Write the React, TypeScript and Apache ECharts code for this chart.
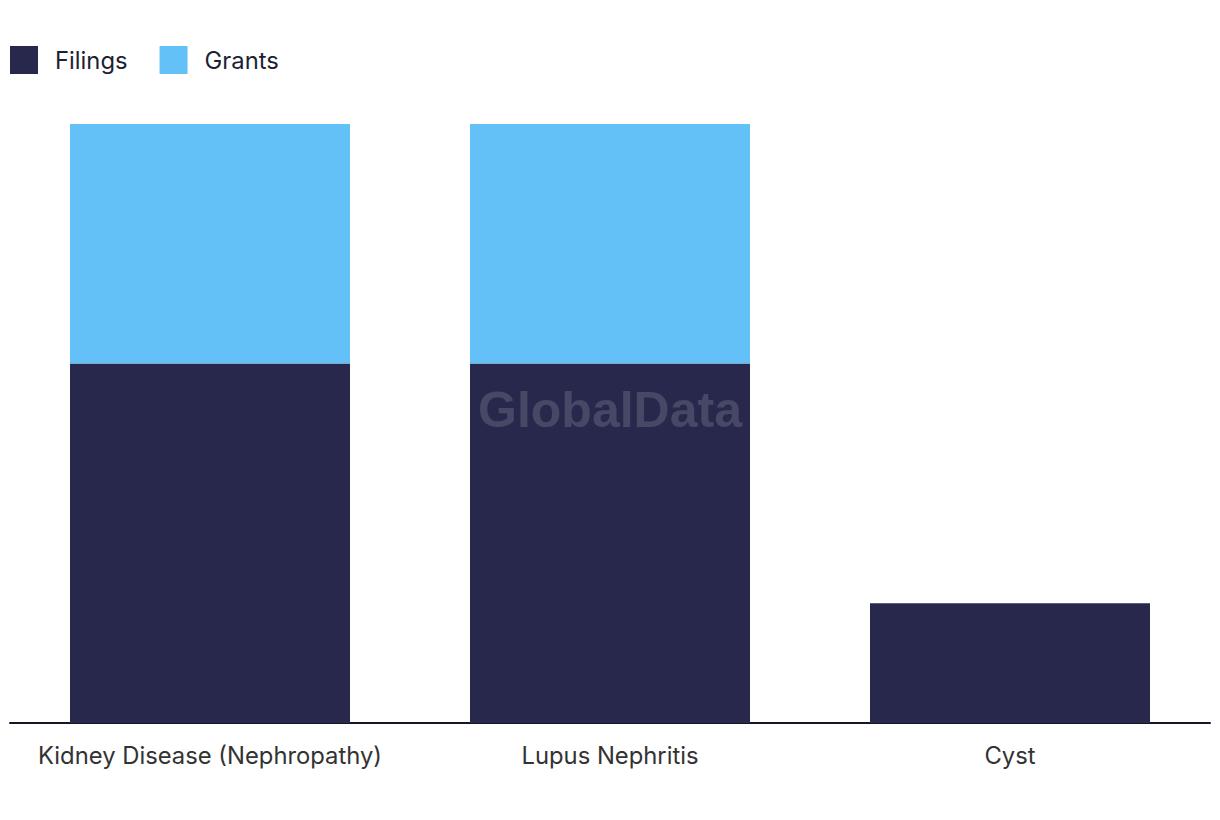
import React, { useEffect, useRef } from "react";
import * as echarts from "echarts";

const categories = ["Kidney Disease (Nephropathy)", "Lupus Nephritis", "Cyst"];
const filings = [3, 3, 1];
const grants = [2, 2, 0];

export default function App() {
  const ref = useRef<HTMLDivElement>(null);
  useEffect(() => {
    document.body.style.margin = "0";
    const chart = echarts.init(ref.current!, undefined, { renderer: "svg" });
    chart.setOption({
      animation: false,
      textStyle: { fontFamily: "Inter" },
      legend: {
        left: 5,
        top: 41,
        itemWidth: 28,
        itemHeight: 28,
        itemGap: 32,
        icon: "rect",
        textStyle: { fontSize: 23.8, color: "#1e1f33", fontFamily: "Inter", padding: [0, 0, 0, 12] },
        data: ["Filings", "Grants"],
      },
      grid: { left: 10, right: 10, top: 124, bottom: 97, containLabel: false },
      xAxis: {
        type: "category",
        data: categories,
        axisLine: { lineStyle: { color: "#15162a", width: 2 } },
        axisTick: { show: false },
        axisLabel: { fontSize: 23.8, color: "#333333", margin: 20, fontFamily: "Inter", interval: 0 },
      },
      yAxis: { type: "value", min: 0, max: 5, show: false, splitLine: { show: false } },
      graphic: [
        {
          type: "text",
          left: "center",
          top: 385,
          z: 100,
          style: {
            text: "GlobalData",
            fontSize: 50,
            fontWeight: "bold",
            fontFamily: "Liberation Sans",
            fill: "rgba(255,255,255,0.15)",
          },
        },
      ],
      series: [
        {
          name: "Filings",
          type: "bar",
          stack: "total",
          barWidth: "70%",
          data: filings,
          itemStyle: { color: "#27284b" },
        },
        {
          name: "Grants",
          type: "bar",
          stack: "total",
          barWidth: "70%",
          data: grants,
          itemStyle: { color: "#63c1f8" },
        },
      ],
    });
    return () => chart.dispose();
  }, []);
  return <div ref={ref} style={{ width: 1220, height: 820 }} />;
}
